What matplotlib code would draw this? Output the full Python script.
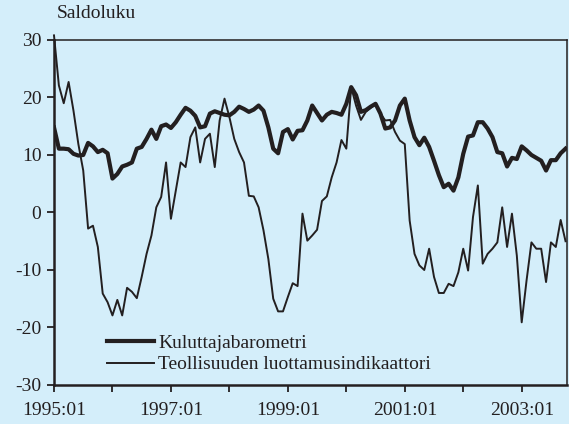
import numpy as np
import matplotlib
matplotlib.use('Agg')
import matplotlib.pyplot as plt

plt.rcParams['font.family'] = ['Liberation Serif', 'DejaVu Serif']

# monthly data 1995:01 - 2003:10
kulutt = [14.8, 11.1, 11.1, 11.0, 10.2, 9.9, 10.0, 12.1, 11.5, 10.5, 10.9, 10.3,
          5.9, 6.7, 8.0, 8.3, 8.7, 11.1, 11.4, 12.8, 14.4, 12.8, 15.0, 15.3,
          14.7, 15.7, 17.0, 18.2, 17.7, 16.8, 14.8, 15.0, 17.2, 17.6, 17.3, 17.0,
          16.9, 17.5, 18.4, 18.0, 17.5, 17.9, 18.6, 17.7, 14.8, 11.1, 10.3, 14.0,
          14.5, 12.7, 14.2, 14.3, 16.0, 18.6, 17.3, 16.0, 17.0, 17.5, 17.3, 17.0,
          18.9, 21.8, 20.4, 17.5, 17.8, 18.4, 18.9, 17.2, 14.6, 14.8, 16.0, 18.6,
          19.8, 16.0, 13.1, 11.7, 13.0, 11.4, 9.0, 6.5, 4.4, 5.0, 3.8, 6.1,
          10.2, 13.2, 13.4, 15.7, 15.7, 14.6, 13.1, 10.5, 10.3, 8.0, 9.5, 9.3,
          11.5, 10.8, 10.0, 9.5, 9.0, 7.3, 9.1, 9.1, 10.3, 11.1]

teoll = [30.8, 22.1, 19.0, 22.7, 17.7, 11.9, 7.3, -2.8, -2.3, -6.0, -14.1, -15.6,
         -17.9, -15.2, -17.9, -13.1, -13.8, -14.9, -11.2, -7.2, -4.0, 0.9, 2.7, 8.7,
         -1.1, 3.8, 8.7, 7.9, 13.1, 14.8, 8.7, 12.8, 13.7, 7.9, 16.0, 19.8,
         16.6, 12.8, 10.5, 8.7, 2.9, 2.8, 0.9, -3.1, -8.1, -15.0, -17.2, -17.2,
         -14.7, -12.3, -12.8, -0.2, -4.9, -4.0, -3.0, 2.0, 2.8, 6.1, 8.7, 12.6,
         11.1, 21.8, 18.6, 16.1, 17.5, 18.2, 18.9, 17.2, 16.0, 16.1, 14.0, 12.5,
         11.9, -1.4, -7.2, -9.2, -10.0, -6.3, -11.2, -14.0, -14.0, -12.4, -12.8, -10.4,
         -6.3, -10.1, -0.8, 4.7, -8.9, -7.2, -6.3, -5.2, 0.9, -6.0, -0.2, -7.5,
         -19.1, -11.8, -5.2, -6.3, -6.3, -12.1, -5.2, -6.0, -1.3, -5.0]

years = ['1995:01', '1997:01', '1999:01', '2001:01', '2003:01']
yticks = [30, 20, 10, 0, -10, -20, -30]

bg = '#d4eefa'
ink = '#231f20'

fig = plt.figure(figsize=(5.69, 4.24), dpi=100, facecolor=bg)
ax = fig.add_axes([0.0949, 0.092, 0.9016, 0.8137], facecolor=bg)

months = np.arange(len(kulutt))
ax.plot(months, kulutt, color=ink, lw=3.0, label='Kuluttajabarometri', zorder=3)
ax.plot(months, teoll, color=ink, lw=1.4, label='Teollisuuden luottamusindikaattori',
        clip_on=False, zorder=2)

ax.set_xlim(0, 105.3)
ax.set_ylim(-30, 30)
ax.set_yticks(yticks)
ax.set_yticklabels([str(v) for v in yticks])
ax.set_xticks(np.arange(0, 106, 24))
ax.set_xticklabels(years)
ax.set_xticks(np.arange(12, 106, 24), minor=True)

ax.tick_params(axis='both', which='both', direction='out', length=5, width=1.3,
               color=ink, labelcolor=ink, labelsize=14, pad=4)
ax.tick_params(axis='x', pad=7)
for side in ['left', 'bottom']:
    ax.spines[side].set_linewidth(1.8)
    ax.spines[side].set_color(ink)
for side in ['top', 'right']:
    ax.spines[side].set_linewidth(1.1)
    ax.spines[side].set_color(ink)

fig.text(57 / 569, 1 - 14 / 424, 'Saldoluku', fontsize=14, color=ink,
         ha='left', va='center')

leg = ax.legend(loc='upper left', bbox_to_anchor=(0.103, 0.148), frameon=False,
                fontsize=14, handlelength=2.45, handletextpad=0.2,
                labelspacing=0.22, borderpad=0, borderaxespad=0)
for t in leg.get_texts():
    t.set_color(ink)

fig.savefig('out.png', dpi=100, facecolor=bg)
